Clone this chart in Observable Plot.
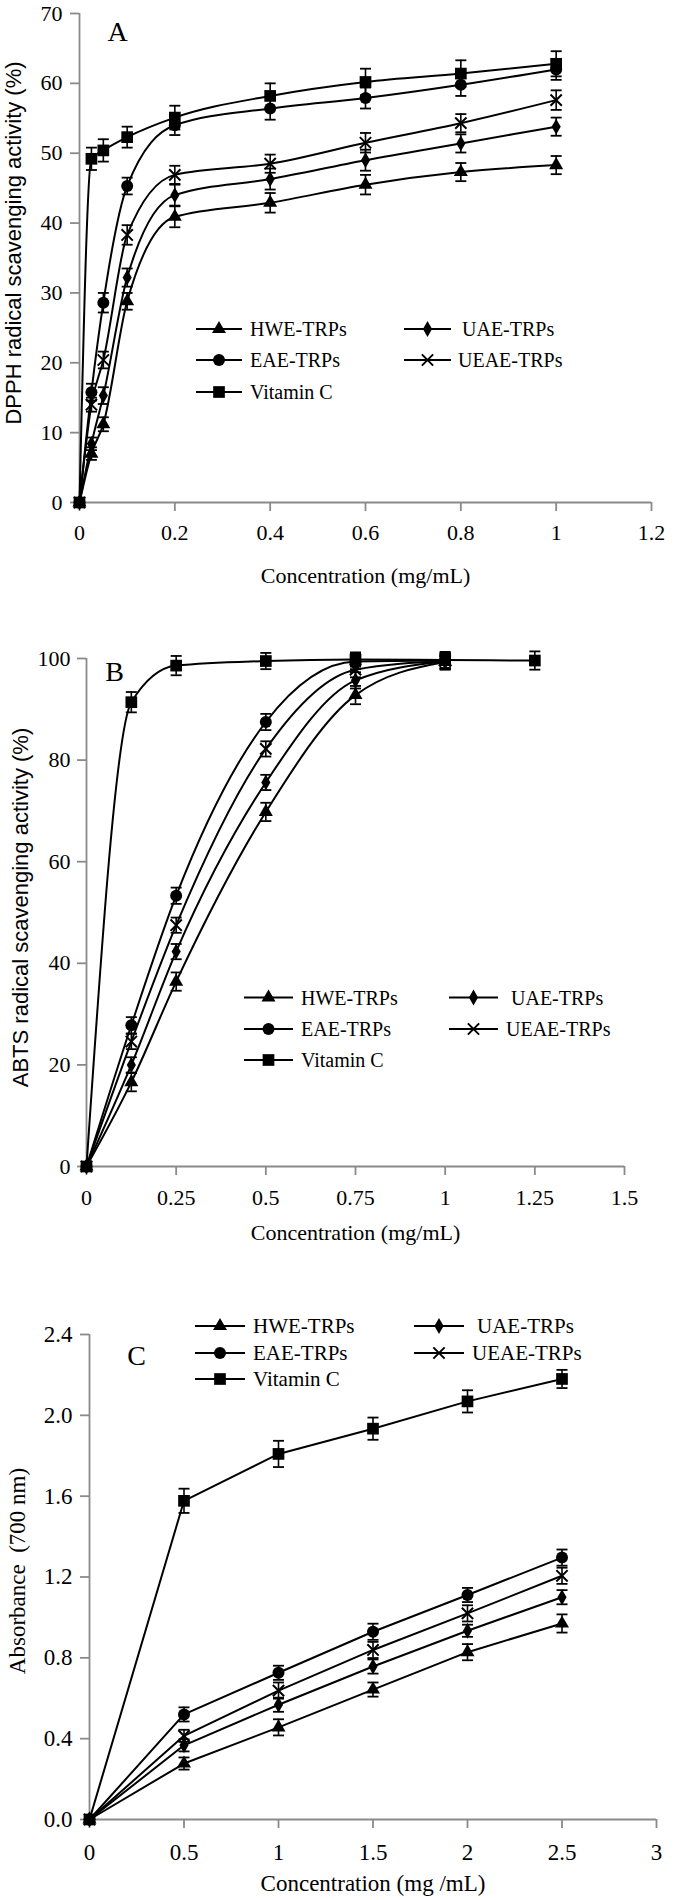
<!DOCTYPE html>
<html><head><meta charset="utf-8">
<script src="https://cdn.jsdelivr.net/npm/d3@7"></script>
<script src="https://cdn.jsdelivr.net/npm/@observablehq/plot@0.6"></script>
<style>
body{margin:0;background:#fff;}
#wrap{position:relative;width:685px;height:1900px;overflow:hidden;background:#fff;}
#wrap svg{position:absolute;left:0;overflow:visible;}
</style></head><body><div id="wrap"></div>
<script>
// ---------- data ----------
const seriesNames = ["HWE-TRPs", "UAE-TRPs", "EAE-TRPs", "UEAE-TRPs", "Vitamin C"];
const seriesSymbols = ["triangle", "diamond", "circle", "times", "square"];

// Panel A: DPPH
const concA = [0, 0.025, 0.05, 0.1, 0.2, 0.4, 0.6, 0.8, 1];
const dpphHWE  = [0, 7.0, 11.2, 28.8, 40.9, 42.9, 45.5, 47.3, 48.3];
const dpphUAE  = [0, 8.4, 15.3, 32.2, 44.0, 46.3, 49.0, 51.4, 53.8];
const dpphEAE  = [0, 15.8, 28.6, 45.3, 54.0, 56.4, 57.9, 59.8, 62.0];
const dpphUEAE = [0, 14.0, 20.4, 38.3, 46.9, 48.5, 51.5, 54.3, 57.6];
const dpphVitC = [0, 49.2, 50.4, 52.3, 55.1, 58.2, 60.2, 61.4, 62.8];
const dpphErrHWE  = [0, 0.9, 1.0, 1.2, 1.5, 1.4, 1.4, 1.3, 1.3];
const dpphErrUAE  = [0, 0.9, 1.2, 1.3, 1.5, 1.5, 1.5, 1.3, 1.3];
const dpphErrEAE  = [0, 1.2, 1.4, 1.2, 1.4, 1.6, 1.5, 1.6, 1.5];
const dpphErrUEAE = [0, 1.0, 1.2, 1.4, 1.3, 1.3, 1.4, 1.3, 1.4];
const dpphErrVitC = [0, 1.6, 1.6, 1.5, 1.7, 1.8, 1.9, 1.9, 1.8];
const xTicksA = [0, 0.2, 0.4, 0.6, 0.8, 1, 1.2];
const yTicksA = [0, 10, 20, 30, 40, 50, 60, 70];

// Panel B: ABTS
const concB = [0, 0.125, 0.25, 0.5, 0.75, 1, 1.25];
const abtsHWE  = [0, 16.6, 36.4, 69.8, 92.8, 99.3];
const abtsUAE  = [0, 20.0, 42.3, 75.6, 95.7, 99.4];
const abtsEAE  = [0, 27.8, 53.3, 87.5, 99.4, 99.6];
const abtsUEAE = [0, 24.6, 47.5, 82.2, 97.8, 99.5];
const abtsVitC = [0, 91.4, 98.6, 99.5, 99.8, 99.7, 99.6];
const abtsErrHWE  = [0, 1.8, 1.8, 1.8, 1.8, 1.5];
const abtsErrUAE  = [0, 1.5, 1.5, 1.5, 1.6, 1.5];
const abtsErrEAE  = [0, 1.6, 1.6, 1.6, 1.5, 1.5];
const abtsErrUEAE = [0, 1.5, 1.5, 1.5, 1.5, 1.5];
const abtsErrVitC = [0, 2.0, 1.9, 1.6, 1.4, 1.6, 1.8];
const xTicksB = [0, 0.25, 0.5, 0.75, 1, 1.25, 1.5];
const yTicksB = [0, 20, 40, 60, 80, 100];

// Panel C: reducing power
const concC = [0, 0.5, 1, 1.5, 2, 2.5];
const absHWE  = [0, 0.277, 0.456, 0.643, 0.828, 0.970];
const absUAE  = [0, 0.367, 0.568, 0.757, 0.934, 1.100];
const absEAE  = [0, 0.520, 0.726, 0.929, 1.111, 1.296];
const absUEAE = [0, 0.414, 0.638, 0.839, 1.020, 1.206];
const absVitC = [0, 1.577, 1.809, 1.934, 2.069, 2.180];
const absErrHWE  = [0, 0.03, 0.04, 0.035, 0.04, 0.045];
const absErrUAE  = [0, 0.03, 0.035, 0.035, 0.03, 0.035];
const absErrEAE  = [0, 0.035, 0.035, 0.04, 0.035, 0.04];
const absErrUEAE = [0, 0.03, 0.04, 0.04, 0.04, 0.04];
const absErrVitC = [0, 0.06, 0.065, 0.055, 0.055, 0.045];
const xTicksC = [0, 0.5, 1, 1.5, 2, 2.5, 3];
const yTicksC = [0, 0.4, 0.8, 1.2, 1.6, 2.0, 2.4];

// ---------- helpers ----------
const BLACK = "#000", AXIS = "#8a8a8a";
const SERIF = "'Liberation Serif', 'Times New Roman', serif";
const SANS = "'Liberation Sans', Arial, sans-serif";
const capSymbol = {draw(ctx, size) { const w = Math.sqrt(size / Math.PI); ctx.moveTo(-w, 0); ctx.lineTo(w, 0); }};
const symbolR = {triangle: 5.2, diamond: 4.8, circle: 6, times: 5.2, square: 6.6};
const d3Sym = {triangle: d3.symbolTriangle, diamond: d3.symbolDiamond, circle: d3.symbolCircle, times: d3.symbolTimes, square: d3.symbolSquare};

function rowsFor(xs, ys, es, name) {
  return ys.map((v, j) => ({series: name, x: xs[j], y: v, e: es[j]}));
}

function legendMark(lg) {
  return () => {
    const g = d3.create("svg:g")
      .attr("font-family", SERIF).attr("font-size", lg.fontSize).attr("fill", BLACK)
      .attr("text-anchor", "start");
    lg.items.forEach((it) => {
      const col = lg.cols[it.col];
      const y = lg.rows[it.row];
      g.append("line").attr("x1", col.x1).attr("x2", col.x2).attr("y1", y).attr("y2", y)
        .attr("stroke", BLACK).attr("stroke-width", 2);
      const sym = seriesSymbols[it.s];
      const r = symbolR[sym];
      const p = g.append("path")
        .attr("d", d3.symbol(d3Sym[sym], r * r * Math.PI)())
        .attr("transform", `translate(${(col.x1 + col.x2) / 2},${y})`);
      if (sym === "times") p.attr("fill", "none").attr("stroke", BLACK).attr("stroke-width", 2);
      else p.attr("fill", BLACK);
      g.append("text").attr("x", it.tx).attr("y", y).attr("dy", "0.35em")
        .attr("text-anchor", "start").text(seriesNames[it.s]);
    });
    return g.node();
  };
}

function buildPanel(cfg) {
  const marks = [
    Plot.ruleY([0], {stroke: AXIS, strokeWidth: 1.8}),
    Plot.ruleX([0], {stroke: AXIS, strokeWidth: 1.8}),
    Plot.axisX({ticks: cfg.xTicks, tickFormat: cfg.xFmt, tickSize: 9, tickPadding: cfg.xPad, label: null,
      stroke: AXIS, strokeWidth: 1.8, fill: BLACK, fontSize: cfg.fontSize}),
    Plot.axisY({ticks: cfg.yTicks, tickFormat: cfg.yFmt, tickSize: 9, tickPadding: cfg.yPad, label: null,
      stroke: AXIS, strokeWidth: 1.8, fill: BLACK, fontSize: cfg.fontSize})
  ];
  cfg.series.forEach((rows, i) => {
    const sym = seriesSymbols[i];
    const eb = rows.filter(d => d.e > 0);
    marks.push(Plot.line(rows, {x: "x", y: "y", curve: cfg.curve, stroke: BLACK, strokeWidth: 2}));
    marks.push(Plot.ruleX(eb, {x: "x", y1: d => d.y - d.e, y2: d => d.y + d.e, stroke: BLACK, strokeWidth: 1.6}));
    marks.push(Plot.dot(eb, {x: "x", y: d => d.y + d.e, symbol: capSymbol, r: 5.5, stroke: BLACK, strokeWidth: 1.8}));
    marks.push(Plot.dot(eb, {x: "x", y: d => d.y - d.e, symbol: capSymbol, r: 5.5, stroke: BLACK, strokeWidth: 1.8}));
    if (sym === "times") marks.push(Plot.dot(rows, {x: "x", y: "y", symbol: sym, r: symbolR[sym], stroke: BLACK, strokeWidth: 2}));
    else marks.push(Plot.dot(rows, {x: "x", y: "y", symbol: sym, r: symbolR[sym], fill: BLACK, stroke: "none"}));
  });
  marks.push(Plot.text([cfg.xLabel], {text: d => d, frameAnchor: "bottom", dy: cfg.xLabelDy, lineAnchor: "middle",
    fontFamily: SERIF, fontSize: cfg.titleSize, fill: BLACK}));
  marks.push(Plot.text([cfg.yLabel], {text: d => d, frameAnchor: "left", rotate: -90, dx: cfg.yLabelDx, dy: cfg.yLabelDy,
    textAnchor: "middle", lineAnchor: "middle", fontFamily: cfg.yLabelFont, fontSize: cfg.titleSize, fill: BLACK}));
  marks.push(Plot.text([cfg.letter], {text: d => d, frameAnchor: "top-left", dx: cfg.letterDx, dy: cfg.letterDy,
    textAnchor: "middle", lineAnchor: "middle", fontFamily: SERIF, fontSize: 28, fill: BLACK}));
  marks.push(legendMark(cfg.legend));
  const svg = Plot.plot({
    width: 685, height: cfg.height,
    marginLeft: cfg.m[0], marginRight: cfg.m[1], marginTop: cfg.m[2], marginBottom: cfg.m[3],
    x: {domain: cfg.xDomain}, y: {domain: cfg.yDomain},
    style: {fontFamily: SERIF, background: "transparent", overflow: "visible"},
    marks
  });
  svg.setAttribute("font-family", SERIF);
  svg.style.fontFamily = SERIF;
  svg.style.top = cfg.top + "px";
  document.getElementById("wrap").appendChild(svg);
}

const fmtPlain = d => String(d);
const legendItems = (rt) => [
  {s: 0, col: 0, row: 0, tx: rt[0]},
  {s: 1, col: 1, row: 0, tx: rt[1]},
  {s: 2, col: 0, row: 1, tx: rt[0]},
  {s: 3, col: 1, row: 1, tx: rt[2]},
  {s: 4, col: 0, row: 2, tx: rt[0]}
];

// Panel A
buildPanel({
  top: 0, height: 600, m: [79, 34, 13, 98],
  xDomain: [0, 1.2], yDomain: [0, 70], xTicks: xTicksA, yTicks: yTicksA, xFmt: fmtPlain, yFmt: fmtPlain,
  xPad: 13, yPad: 8, fontSize: 22, titleSize: 22, curve: "monotone-x",
  xLabel: "Concentration (mg/mL)", xLabelDy: 73,
  yLabel: "DPPH radical scavenging activity (%)", yLabelFont: SANS, yLabelDx: -66, yLabelDy: -15,
  letter: "A", letterDx: 38, letterDy: 19,
  series: [
    rowsFor(concA, dpphHWE, dpphErrHWE, seriesNames[0]),
    rowsFor(concA, dpphUAE, dpphErrUAE, seriesNames[1]),
    rowsFor(concA, dpphEAE, dpphErrEAE, seriesNames[2]),
    rowsFor(concA, dpphUEAE, dpphErrUEAE, seriesNames[3]),
    rowsFor(concA, dpphVitC, dpphErrVitC, seriesNames[4])
  ],
  legend: {fontSize: 20, rows: [329, 360, 392], cols: [{x1: 196, x2: 242}, {x1: 404, x2: 451}], items: legendItems([250, 462, 458])}
});

// Panel B
buildPanel({
  top: 600, height: 650, m: [86, 61, 58, 84],
  xDomain: [0, 1.5], yDomain: [0, 100], xTicks: xTicksB, yTicks: yTicksB, xFmt: fmtPlain, yFmt: fmtPlain,
  xPad: 14, yPad: 7, fontSize: 22, titleSize: 22, curve: "monotone-x",
  xLabel: "Concentration (mg/mL)", xLabelDy: 66,
  yLabel: "ABTS radical scavenging activity (%)", yLabelFont: SANS, yLabelDx: -66, yLabelDy: -5,
  letter: "B", letterDx: 28, letterDy: 14,
  series: [
    rowsFor(concB, abtsHWE, abtsErrHWE, seriesNames[0]),
    rowsFor(concB, abtsUAE, abtsErrUAE, seriesNames[1]),
    rowsFor(concB, abtsEAE, abtsErrEAE, seriesNames[2]),
    rowsFor(concB, abtsUEAE, abtsErrUEAE, seriesNames[3]),
    rowsFor(concB, abtsVitC, abtsErrVitC, seriesNames[4])
  ],
  legend: {fontSize: 20, rows: [397.5, 429, 460], cols: [{x1: 244, x2: 293}, {x1: 449, x2: 498}], items: legendItems([301, 511, 506])}
});

// Panel C
buildPanel({
  top: 1250, height: 650, m: [89, 29, 84, 81],
  xDomain: [0, 3], yDomain: [0, 2.4], xTicks: xTicksC, yTicks: yTicksC, xFmt: fmtPlain, yFmt: d3.format(".1f"),
  xPad: 15, yPad: 8, fontSize: 23, titleSize: 23, curve: "linear",
  xLabel: "Concentration (mg /mL)", xLabelDy: 64,
  yLabel: "Absorbance  (700 nm)", yLabelFont: SERIF, yLabelDx: -71.5, yLabelDy: -6,
  letter: "C", letterDx: 47, letterDy: 22,
  series: [
    rowsFor(concC, absHWE, absErrHWE, seriesNames[0]),
    rowsFor(concC, absUAE, absErrUAE, seriesNames[1]),
    rowsFor(concC, absEAE, absErrEAE, seriesNames[2]),
    rowsFor(concC, absUEAE, absErrUEAE, seriesNames[3]),
    rowsFor(concC, absVitC, absErrVitC, seriesNames[4])
  ],
  legend: {fontSize: 21, rows: [76, 103, 129], cols: [{x1: 195, x2: 245}, {x1: 414, x2: 464}], items: legendItems([253, 477, 472])}
});
</script></body></html>
